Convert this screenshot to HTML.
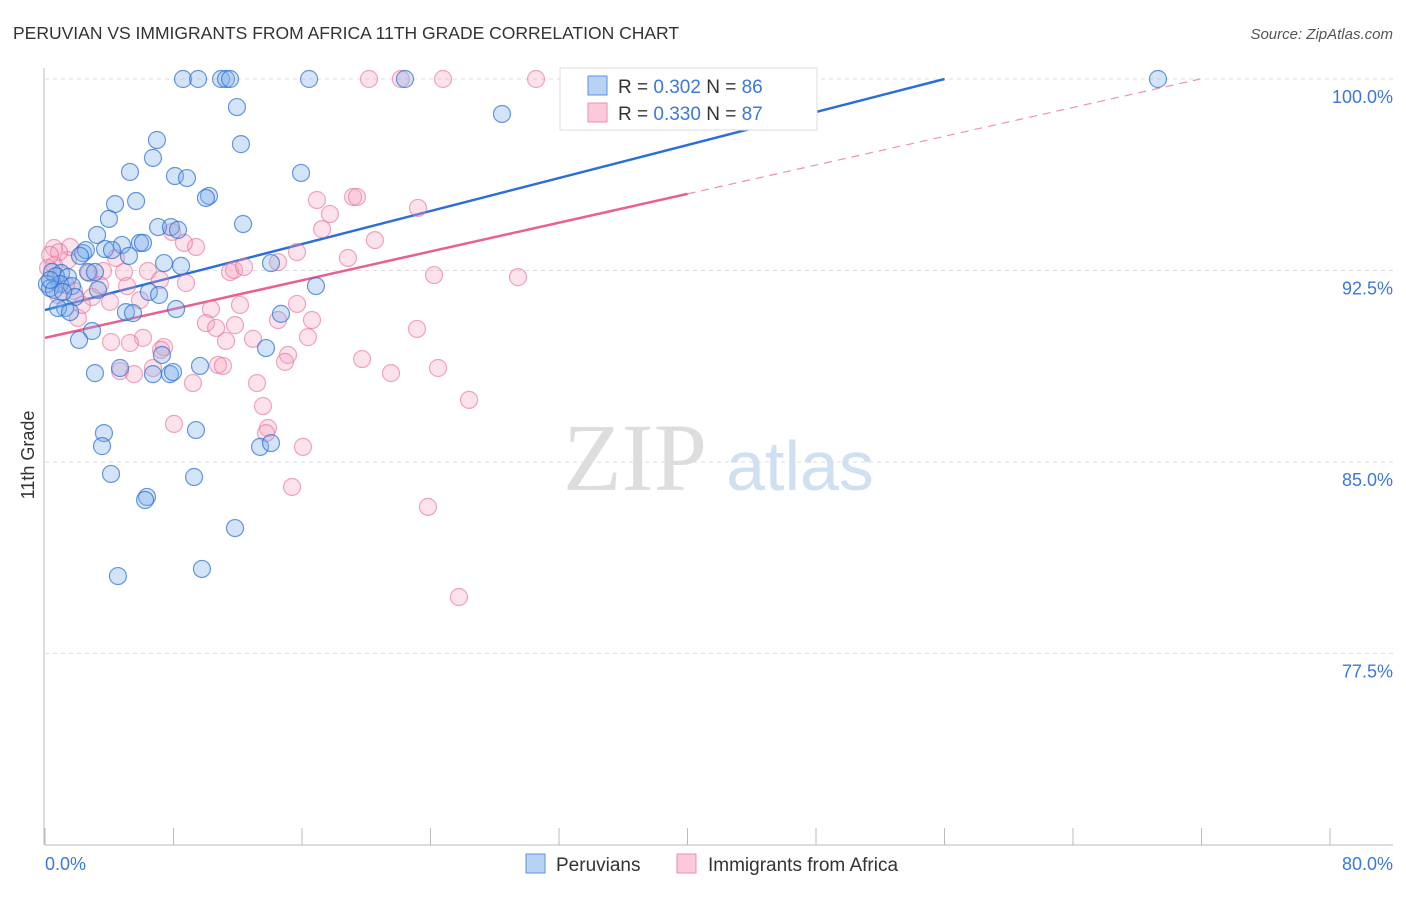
<!DOCTYPE html>
<html><head><meta charset="utf-8"><style>
body{margin:0;background:#fff;font-family:"Liberation Sans",sans-serif}
</style></head><body>
<svg id="c" width="1406" height="892" xmlns="http://www.w3.org/2000/svg" style="font-family:'Liberation Sans',sans-serif">
<text x="13" y="39" font-size="17.5" fill="#333">PERUVIAN VS IMMIGRANTS FROM AFRICA 11TH GRADE CORRELATION CHART</text>
<text x="1393" y="39" font-size="15" fill="#555" text-anchor="end" font-style="italic">Source: ZipAtlas.com</text>
<g><text x="635" y="490" font-size="96" fill="#ddd" font-family="Liberation Serif" text-anchor="middle">ZIP</text><text x="800" y="490" font-size="70" fill="#cfe0f3" text-anchor="middle">atlas</text></g>
<text transform="translate(34,455) rotate(-90)" font-size="18" fill="#333" text-anchor="middle">11th Grade</text>
<g id="grid"></g><g id="axes"></g><g id="lines"></g><g id="pts"></g>
<g>
<rect x="560" y="68" width="257" height="62" fill="#fff" stroke="#ddd"/>
<rect x="588" y="76" width="19" height="19" fill="#b7d2f5" stroke="#5b93e0"/>
<rect x="588" y="103" width="19" height="19" fill="#fbc9d8" stroke="#ee8fb0"/>
<text x="618" y="93" font-size="19" fill="#333">R = <tspan fill="#3b78d8">0.302</tspan>   N = <tspan fill="#3b78d8">86</tspan></text>
<text x="618" y="120" font-size="19" fill="#333">R = <tspan fill="#3b78d8">0.330</tspan>   N = <tspan fill="#3b78d8">87</tspan></text>
</g>
<g>
<rect x="526" y="854" width="19" height="19" fill="#b7d2f5" stroke="#5b93e0"/>
<text x="556" y="871" font-size="19" fill="#333">Peruvians</text>
<rect x="677" y="854" width="19" height="19" fill="#fbc9d8" stroke="#ee8fb0"/>
<text x="708" y="871" font-size="19" fill="#333">Immigrants from Africa</text>
</g>
</svg>
<script>
const yTicks=[100,92.5,85,77.5];
const yTickLabels=["100.0%","92.5%","85.0%","77.5%"];
const xTickVals=[0,8,16,24,32,40,48,56,64,72,80];
const xEndLabels=["0.0%","80.0%"];
const bluePx=[[183,79],[198,79],[221,79],[226,79],[230,79],[309,79],[405,79],[1158,79],[237,107],[502,114],[157,140],[241,144],[153,158],[130,172],[175,176],[187,178],[301,173],[209,196],[206,198],[136,201],[115,204],[109,219],[243,224],[158,227],[171,227],[178,230],[97,235],[140,243],[122,245],[143,243],[105,249],[83,253],[86,250],[112,250],[129,256],[80,256],[164,263],[181,266],[271,263],[61,273],[52,272],[56,276],[68,277],[88,272],[95,272],[60,284],[72,286],[47,284],[50,288],[54,290],[98,290],[75,297],[149,292],[159,295],[316,286],[65,308],[58,308],[70,312],[126,312],[133,313],[176,309],[281,314],[92,331],[79,340],[266,348],[162,355],[200,366],[95,373],[120,368],[153,374],[170,374],[173,372],[104,433],[102,446],[196,430],[260,447],[271,443],[111,474],[194,477],[147,497],[145,500],[235,528],[118,576],[202,569],[50,280],[63,292]];
const pinkPx=[[369,79],[401,79],[443,79],[536,79],[570,79],[576,79],[675,79],[317,200],[353,197],[357,197],[330,214],[418,208],[322,229],[375,240],[348,258],[297,252],[172,232],[196,247],[184,243],[116,258],[148,271],[230,272],[234,270],[244,267],[278,262],[434,275],[518,277],[124,272],[103,271],[89,273],[68,260],[54,248],[70,247],[59,252],[54,265],[186,283],[127,286],[160,280],[74,291],[92,297],[110,302],[78,318],[240,305],[297,304],[211,309],[206,323],[216,328],[235,325],[278,320],[312,320],[417,329],[143,338],[111,342],[130,343],[164,347],[161,350],[226,341],[308,337],[253,339],[288,355],[285,362],[362,359],[391,373],[438,368],[120,371],[134,374],[153,368],[218,365],[223,366],[193,383],[257,383],[469,400],[174,424],[263,406],[268,428],[266,433],[303,447],[292,487],[428,507],[459,597],[50,255],[48,268],[58,295],[66,285],[82,305],[100,285],[140,300]];
// convert to data values (x %, y %)
const blueX=bluePx.map(p=>+((p[0]-45)/16.0625).toFixed(2));
const blueY=bluePx.map(p=>+(100-(p[1]-79)/25.53).toFixed(2));
const pinkX=pinkPx.map(p=>+((p[0]-45)/16.0625).toFixed(2));
const pinkY=pinkPx.map(p=>+(100-(p[1]-79)/25.53).toFixed(2));
const blueFit=[90.95,0.1616];
const pinkFit=[89.86,0.141];
const X=v=>45+v*16.0625, Y=v=>79+(100-v)*25.53;
const NS="http://www.w3.org/2000/svg";
function mk(t,a,parent){const e=document.createElementNS(NS,t);for(const k in a)e.setAttribute(k,a[k]);parent.appendChild(e);return e;}
const grid=document.getElementById('grid'),axes=document.getElementById('axes'),lines=document.getElementById('lines'),pts=document.getElementById('pts');
yTicks.forEach((v,i)=>{
 const l=mk('line',{x1:45,x2:1393,y1:Y(v),y2:Y(v),stroke:'#ddd','stroke-dasharray':'4,4'},grid);
 
 
 const t=mk('text',{x:1393,y:Y(v)+24,'font-size':18,fill:'#3b78d8','text-anchor':'end'},axes);
 t.textContent=yTickLabels[i];
 
 
});
const ax=mk('line',{x1:45,x2:1393,y1:845,y2:845,stroke:'#bbb'},axes);


const ay=mk('line',{x1:44,x2:44,y1:68,y2:845,stroke:'#bbb'},axes);


xTickVals.forEach(v=>{
 const t=mk('line',{x1:X(v),x2:X(v),y1:828,y2:845,stroke:'#bbb'},axes);
 
 
});
const xl0=mk('text',{x:45,y:870,'font-size':18,fill:'#3b78d8'},axes);
xl0.textContent=xEndLabels[0];


const xl1=mk('text',{x:1393,y:870,'font-size':18,fill:'#3b78d8','text-anchor':'end'},axes);
xl1.textContent=xEndLabels[1];


function drawPts(xs,ys,fill,stroke,name){xs.forEach((x,i)=>{
 const c=mk('circle',{cx:X(x),cy:Y(ys[i]),r:8.5,fill:fill,stroke:stroke,'stroke-width':1.2},pts);
 
 
});}
drawPts(pinkX,pinkY,'rgba(246,160,190,0.3)','rgba(232,110,150,0.6)','point-africa');
drawPts(blueX,blueY,'rgba(130,175,235,0.35)','rgba(40,110,210,0.7)','point-peruvians');
// regression lines
const bEnd=(100-blueFit[0])/blueFit[1];
const bl=mk('line',{x1:X(0),y1:Y(blueFit[0]),x2:X(bEnd),y2:Y(100),stroke:'#2a6fd6','stroke-width':2.5},lines);


const pSolidEnd=40, pEnd=(100-pinkFit[0])/pinkFit[1];
const pl=mk('line',{x1:X(0),y1:Y(pinkFit[0]),x2:X(pSolidEnd),y2:Y(pinkFit[0]+pinkFit[1]*pSolidEnd),stroke:'#e8608f','stroke-width':2.5},lines);


const pd=mk('line',{x1:X(pSolidEnd),y1:Y(pinkFit[0]+pinkFit[1]*pSolidEnd),x2:X(pEnd),y2:Y(100),stroke:'#ee90b0','stroke-width':1.2,'stroke-dasharray':'8,6'},lines);


</script>
</body></html>
